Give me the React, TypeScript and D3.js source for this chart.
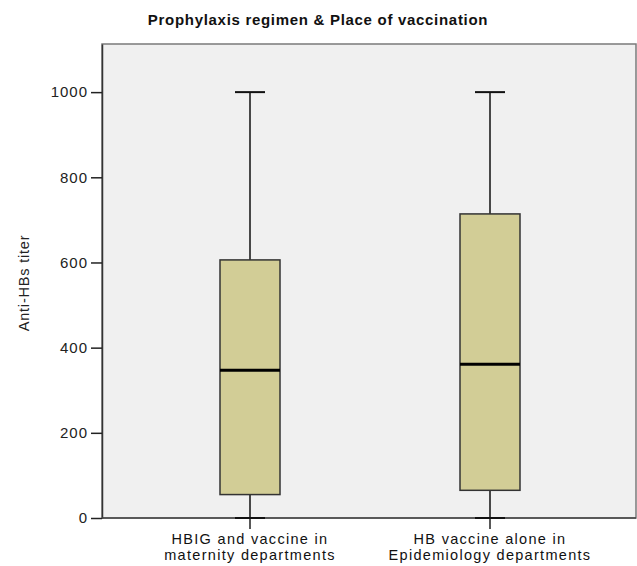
import React, { useEffect, useRef } from "react";
import * as d3 from "d3";

// groups and their box plot summaries (Anti-HBs titer)
const categories = ["HBIG and vaccine in|maternity departments", "HB vaccine alone in|Epidemiology departments"];
const mins = [0, 0];
const q1s = [55, 65];
const medians = [347, 361];
const q3s = [606, 714];
const maxs = [1000, 1000];
const yTicks = [0, 200, 400, 600, 800, 1000];

const title = "Prophylaxis regimen & Place of vaccination";
const yLabel = "Anti-HBs titer";

export default function App() {
  const svgRef = useRef<SVGSVGElement>(null);
  const W = 637;
  const H = 566;
  const plot = { left: 102, right: 636, top: 44, bottom: 518 };

  useEffect(() => {
    const svg = d3.select(svgRef.current);
    svg.selectAll("*").remove();
    const font = "'Liberation Sans', Arial, sans-serif";

    const x = d3.scaleBand().domain(categories).range([130, 610]).padding(0);
    const y = d3.scaleLinear().domain([0, 1113]).range([plot.bottom, plot.top]);
    const boxW = x.bandwidth() * 0.25;
    const capW = x.bandwidth() * 0.125;

    // plot background
    svg.append("rect")
      .attr("x", plot.left).attr("y", plot.top)
      .attr("width", plot.right - plot.left).attr("height", plot.bottom - plot.top)
      .attr("fill", "#f0f0f0").attr("stroke", "#7a7a7a").attr("stroke-width", 1.5);

    // title
    svg.append("text")
      .attr("x", 318).attr("y", 25)
      .attr("text-anchor", "middle")
      .attr("font-family", font).attr("font-weight", "bold").attr("font-size", 15)
      .attr("letter-spacing", 0.7)
      .attr("fill", "#111")
      .text(title);

    // y axis
    const yAxis = d3.axisLeft(y).tickValues(yTicks).tickFormat(d3.format("d")).tickSize(11).tickSizeOuter(0).tickPadding(3);
    const gy = svg.append("g").attr("transform", `translate(${plot.left},0)`).call(yAxis);
    gy.select(".domain").attr("stroke", "#333").attr("stroke-width", 1.5);
    gy.selectAll(".tick line").attr("stroke", "#222").attr("stroke-width", 1.5);
    gy.selectAll(".tick text")
      .attr("font-family", font).attr("font-size", 15).attr("letter-spacing", 1)
      .attr("fill", "#222");

    svg.append("text")
      .attr("transform", `translate(29,283) rotate(-90)`)
      .attr("text-anchor", "middle")
      .attr("font-family", font).attr("font-size", 14.5).attr("letter-spacing", 0.8)
      .attr("fill", "#222")
      .text(yLabel);

    // x axis
    svg.append("line")
      .attr("x1", plot.left).attr("x2", plot.right)
      .attr("y1", plot.bottom).attr("y2", plot.bottom)
      .attr("stroke", "#444").attr("stroke-width", 1.5);

    categories.forEach((c) => {
      const cx = x(c)! + x.bandwidth() / 2;
      svg.append("line")
        .attr("x1", cx).attr("x2", cx)
        .attr("y1", plot.bottom).attr("y2", plot.bottom + 11)
        .attr("stroke", "#222").attr("stroke-width", 1.5);
      c.split("|").forEach((line, i) => {
        svg.append("text")
          .attr("x", cx).attr("y", 544 + i * 16)
          .attr("text-anchor", "middle")
          .attr("font-family", font).attr("font-size", 14.5).attr("letter-spacing", 1.3)
          .attr("fill", "#111")
          .text(line);
      });
    });

    // boxes
    categories.forEach((c, i) => {
      const cx = x(c)! + x.bandwidth() / 2;
      const g = svg.append("g");
      // whiskers
      g.append("line")
        .attr("x1", cx).attr("x2", cx).attr("y1", y(maxs[i])).attr("y2", y(q3s[i]))
        .attr("stroke", "#111").attr("stroke-width", 1.5);
      g.append("line")
        .attr("x1", cx).attr("x2", cx).attr("y1", y(q1s[i])).attr("y2", y(mins[i]))
        .attr("stroke", "#111").attr("stroke-width", 1.5);
      g.append("line")
        .attr("x1", cx - capW / 2).attr("x2", cx + capW / 2)
        .attr("y1", y(maxs[i])).attr("y2", y(maxs[i]))
        .attr("stroke", "#111").attr("stroke-width", 2);
      g.append("line")
        .attr("x1", cx - capW / 2).attr("x2", cx + capW / 2)
        .attr("y1", y(mins[i])).attr("y2", y(mins[i]))
        .attr("stroke", "#111").attr("stroke-width", 2);
      // box
      g.append("rect")
        .attr("x", cx - boxW / 2).attr("y", y(q3s[i]))
        .attr("width", boxW).attr("height", y(q1s[i]) - y(q3s[i]))
        .attr("fill", "#d2cd96").attr("stroke", "#333").attr("stroke-width", 1.5);
      // median
      g.append("line")
        .attr("x1", cx - boxW / 2).attr("x2", cx + boxW / 2)
        .attr("y1", y(medians[i])).attr("y2", y(medians[i]))
        .attr("stroke", "#000").attr("stroke-width", 3);
    });
  }, []);

  return (
    <svg
      ref={svgRef}
      width={W}
      height={H}
      style={{ position: "absolute", left: 0, top: 0, background: "#fff" }}
    />
  );
}
